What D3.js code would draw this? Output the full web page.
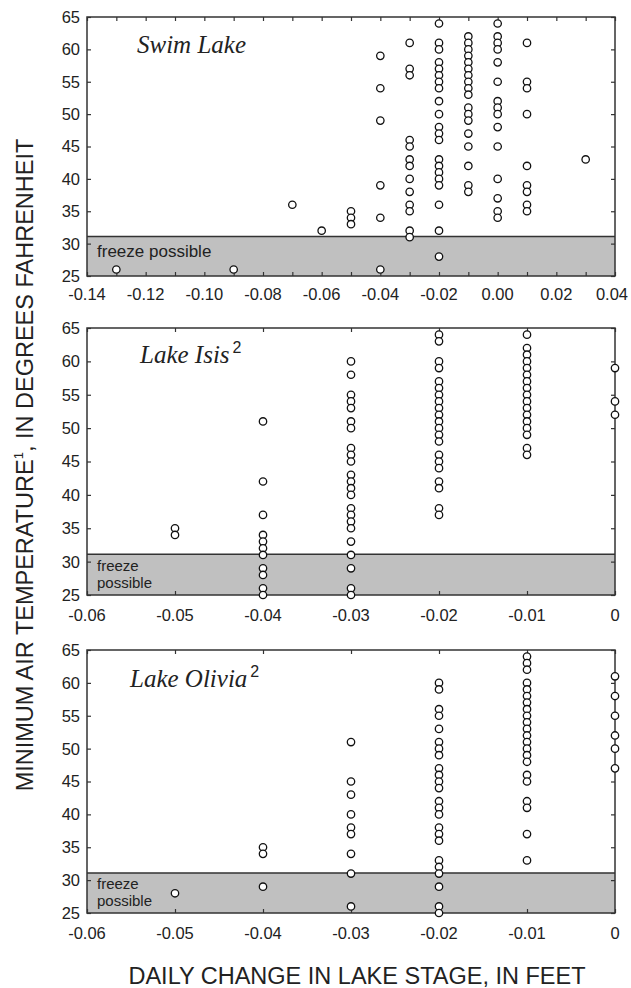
<!DOCTYPE html>
<html>
<head>
<meta charset="utf-8">
<script src="https://cdn.jsdelivr.net/npm/d3@7"></script>
<style>
  html, body { margin: 0; padding: 0; background: #fff; }
  svg { display: block; }
  text { font-family: "Liberation Sans", Arial, sans-serif; fill: #222; }
</style>
</head>
<body>
<svg id="chart" width="631" height="988"></svg>
<script>
// Minimum air temperature versus daily change in lake stage, three lakes.

const yTicks = [25, 30, 35, 40, 45, 50, 55, 60, 65];
const freezeLevel = 31.1;

// Swim Lake
const swimStage = [-0.13, -0.09, -0.07, -0.06, -0.05, -0.04, -0.03, -0.02, -0.01, 0.00, 0.01, 0.03];
const swimTemps = [
  [26],
  [26],
  [36],
  [32],
  [35, 34, 33],
  [59, 54, 49, 39, 34, 26],
  [61, 57, 56, 46, 45, 43, 42, 40, 38, 36, 35, 32, 31],
  [64, 61, 60, 58, 57, 56, 55, 54, 52, 50, 48, 47, 46, 43, 42, 41, 40, 39, 36, 32, 28],
  [62, 61, 60, 59, 58, 57, 56, 55, 54, 53, 51, 50, 49, 47, 45, 42, 39, 38],
  [64, 62, 61, 60, 58, 55, 52, 51, 50, 48, 45, 40, 37, 35, 34],
  [61, 55, 54, 50, 42, 39, 38, 36, 35],
  [43]
];
const swimXTicks = [-0.14, -0.13, -0.12, -0.11, -0.10, -0.09, -0.08, -0.07, -0.06, -0.05, -0.04, -0.03, -0.02, -0.01, 0.00, 0.01, 0.02, 0.03, 0.04];
const swimXLabels = ["-0.14", "-0.12", "-0.10", "-0.08", "-0.06", "-0.04", "-0.02", "0.00", "0.02", "0.04"];
const swimXLabelValues = [-0.14, -0.12, -0.10, -0.08, -0.06, -0.04, -0.02, 0.00, 0.02, 0.04];

// Lake Isis
const isisStage = [-0.05, -0.04, -0.03, -0.02, -0.01, 0];
const isisTemps = [
  [35, 34],
  [51, 42, 37, 34, 33, 32, 31, 29, 28, 26, 25],
  [60, 58, 55, 54, 53, 51, 50, 47, 46, 45, 43, 42, 41, 40, 38, 37, 36, 35, 33, 31, 29, 26, 25],
  [64, 63, 60, 59, 57, 56, 55, 54, 53, 52, 51, 50, 49, 48, 46, 45, 44, 42, 41, 38, 37],
  [64, 62, 61, 60, 59, 58, 57, 56, 55, 54, 53, 52, 51, 50, 49, 47, 46],
  [59, 54, 52]
];

// Lake Olivia
const oliviaStage = [-0.05, -0.04, -0.03, -0.02, -0.01, 0];
const oliviaTemps = [
  [28],
  [35, 34, 29],
  [51, 45, 43, 40, 38, 37, 34, 31, 26],
  [60, 59, 56, 55, 53, 51, 50, 49, 47, 46, 45, 44, 42, 41, 40, 38, 37, 36, 33, 32, 31, 29, 26, 25],
  [64, 63, 62, 60, 59, 58, 57, 56, 55, 54, 53, 52, 51, 50, 49, 48, 46, 45, 42, 41, 37, 33],
  [61, 58, 55, 52, 50, 47]
];

const smallXTicks = [-0.06, -0.05, -0.04, -0.03, -0.02, -0.01, 0];
const smallXLabels = ["-0.06", "-0.05", "-0.04", "-0.03", "-0.02", "-0.01", "0"];

const panels = [
  { name: "Swim Lake", sup: "", stage: swimStage, temps: swimTemps, xDomain: [-0.14, 0.04],
    ticks: swimXTicks, labelValues: swimXLabelValues, labels: swimXLabels,
    top: 17, bottom: 276, labelGap: 24, titleX: 137, titleY: 53, freezeLines: ["freeze possible"] },
  { name: "Lake Isis", sup: "2", stage: isisStage, temps: isisTemps, xDomain: [-0.06, 0],
    ticks: smallXTicks, labelValues: smallXTicks, labels: smallXLabels,
    top: 328, bottom: 595, labelGap: 26, titleX: 140, titleY: 363, freezeLines: ["freeze", "possible"] },
  { name: "Lake Olivia", sup: "2", stage: oliviaStage, temps: oliviaTemps, xDomain: [-0.06, 0],
    ticks: smallXTicks, labelValues: smallXTicks, labels: smallXLabels,
    top: 650, bottom: 913, labelGap: 26, titleX: 130, titleY: 687, freezeLines: ["freeze", "possible"] }
];

const left = 87, right = 615, width = 631;
const svg = d3.select("#chart");

panels.forEach(p => {
  const x = d3.scaleLinear().domain(p.xDomain).range([left, right]);
  const y = d3.scaleLinear().domain([25, 65]).range([p.bottom, p.top]);
  const g = svg.append("g");

  // freeze band
  g.append("rect")
    .attr("x", left).attr("y", y(freezeLevel))
    .attr("width", right - left).attr("height", y(25) - y(freezeLevel))
    .attr("fill", "#c0c0c0");
  g.append("line")
    .attr("x1", left).attr("x2", right)
    .attr("y1", y(freezeLevel)).attr("y2", y(freezeLevel))
    .attr("stroke", "#333").attr("stroke-width", 1.5);

  // inward ticks on all four sides
  const tickLen = 4;
  const axisBottom = d3.axisBottom(x).tickValues(p.ticks).tickSize(-tickLen).tickFormat("");
  const axisTop = d3.axisTop(x).tickValues(p.ticks).tickSize(-tickLen).tickFormat("");
  const axisLeft = d3.axisLeft(y).tickValues(yTicks).tickSize(-tickLen).tickFormat("");
  const axisRight = d3.axisRight(y).tickValues(yTicks).tickSize(-tickLen).tickFormat("");
  [[axisBottom, `translate(0,${p.bottom})`], [axisTop, `translate(0,${p.top})`],
   [axisLeft, `translate(${left},0)`], [axisRight, `translate(${right},0)`]].forEach(([ax, tr]) => {
    const a = g.append("g").attr("transform", tr).call(ax);
    a.select(".domain").remove();
    a.selectAll("line").attr("stroke", "#333").attr("stroke-width", 1.2);
  });

  // y tick labels
  g.selectAll(".ylab").data(yTicks).enter().append("text")
    .attr("x", left - 7).attr("y", d => y(d)).attr("dy", "0.36em")
    .attr("text-anchor", "end").style("font-size", "16.5px")
    .text(d => d);

  // x tick labels (kept inside the page at the right edge)
  g.selectAll(".xlab").data(p.labelValues).enter().append("text")
    .attr("x", d => x(d)).attr("y", p.bottom + p.labelGap)
    .attr("text-anchor", "middle").style("font-size", "16.5px")
    .text((d, i) => p.labels[i])
    .each(function (d) {
      const w = this.getComputedTextLength();
      if (x(d) + w / 2 > width - 3) {
        d3.select(this).attr("text-anchor", "end").attr("x", width - 3);
      }
    });

  // freeze label
  if (p.freezeLines.length === 1) {
    g.append("text")
      .attr("x", left + 10).attr("y", p.bottom - 19)
      .style("font-size", "17px")
      .text(p.freezeLines[0]);
  } else {
    p.freezeLines.forEach((t, i) => {
      g.append("text")
        .attr("x", left + 10).attr("y", p.bottom - 24 + i * 17)
        .style("font-size", "15px")
        .text(t);
    });
  }

  // frame
  g.append("rect")
    .attr("x", left).attr("y", p.top)
    .attr("width", right - left).attr("height", p.bottom - p.top)
    .attr("fill", "none").attr("stroke", "#333").attr("stroke-width", 1.5);

  // points
  const pts = [];
  p.stage.forEach((s, i) => p.temps[i].forEach(t => pts.push([s, t])));
  g.selectAll("circle").data(pts).enter().append("circle")
    .attr("cx", d => x(d[0])).attr("cy", d => y(d[1]))
    .attr("r", 3.7)
    .attr("fill", "#fff").attr("stroke", "#111").attr("stroke-width", 1.3);

  // lake name
  const title = g.append("text")
    .attr("x", p.titleX).attr("y", p.titleY)
    .style("font-family", "'Liberation Serif', 'Times New Roman', serif")
    .style("font-style", "italic").style("font-size", "25px")
    .text(p.name);
  if (p.sup) {
    title.append("tspan")
      .attr("dx", 3).attr("dy", -10)
      .style("font-family", "'Liberation Sans', Arial, sans-serif")
      .style("font-style", "normal").style("font-size", "16px")
      .text(p.sup);
  }
});

// axis titles
svg.append("text")
  .attr("x", 357).attr("y", 984)
  .attr("text-anchor", "middle").style("font-size", "23.5px")
  .text("DAILY CHANGE IN LAKE STAGE, IN FEET");

const yt = svg.append("text")
  .attr("transform", "translate(33,465) rotate(-90)")
  .attr("text-anchor", "middle").style("font-size", "23.5px");
yt.append("tspan").text("MINIMUM AIR TEMPERATURE");
yt.append("tspan").attr("dy", -10).style("font-size", "13px").text("1");
yt.append("tspan").attr("dy", 10).text(", IN DEGREES FAHRENHEIT");
</script>
</body>
</html>
